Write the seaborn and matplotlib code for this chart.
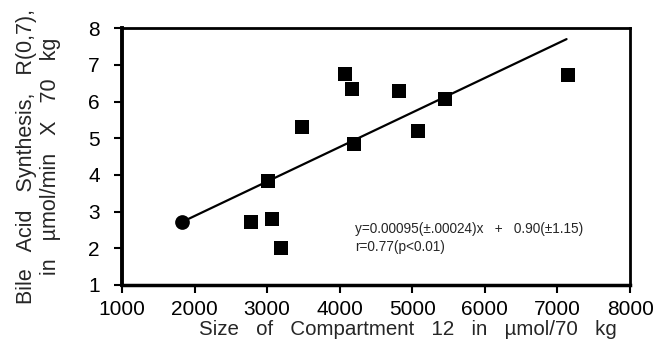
import matplotlib
matplotlib.use("Agg")
import matplotlib.pyplot as plt
import seaborn as sns
import pandas as pd

# data
sq_x = [2780, 3070, 3190, 3015, 3485, 4070, 4175, 4190, 4820, 5080, 5445, 7140]
sq_y = [2.72, 2.80, 2.00, 3.84, 5.30, 6.75, 6.33, 4.83, 6.29, 5.19, 6.07, 6.71]
circ_x = [1830]
circ_y = [2.72]
fit_x = [1830, 7125]
fit_y = [2.72, 7.70]

x_ticks = [1000, 2000, 3000, 4000, 5000, 6000, 7000, 8000]
y_ticks = [1, 2, 3, 4, 5, 6, 7, 8]

sns.set_style("ticks")
plt.rcParams['font.family'] = ['Liberation Sans', 'DejaVu Sans']

fig = plt.figure(figsize=(6.57, 3.47), dpi=100)
ax = fig.add_axes([0.1857, 0.1787, 0.959 - 0.1857, 0.919 - 0.1787])

sq = pd.DataFrame({"x": sq_x, "y": sq_y})
ci = pd.DataFrame({"x": circ_x, "y": circ_y})
fit = pd.DataFrame({"x": fit_x, "y": fit_y})

sns.lineplot(data=fit, x="x", y="y", ax=ax, color="black", linewidth=1.6)
sns.scatterplot(data=sq, x="x", y="y", ax=ax, marker="s", s=92, color="black",
                edgecolor="black", linewidth=0)
sns.scatterplot(data=ci, x="x", y="y", ax=ax, marker="o", s=112, color="black",
                edgecolor="black", linewidth=0)

ax.set_xlim(1000, 8000)
ax.set_ylim(1, 8)
ax.set_xticks(x_ticks)
ax.set_yticks(y_ticks)
ax.tick_params(axis="both", direction="out", length=6, width=1.5, labelsize=15,
               colors="black")
ax.tick_params(axis="x", pad=5)
ax.tick_params(axis="y", pad=10)
for s in ax.spines.values():
    s.set_visible(True)
    s.set_linewidth(2)
    s.set_color("black")
ax.spines["left"].set_linewidth(2.8)
ax.spines["bottom"].set_linewidth(2.5)

ax.set_xlabel("Size   of   Compartment   12   in   µmol/70   kg", fontsize=14.8)
ax.xaxis.label.set_va("center")
ax.xaxis.set_label_coords(0.563, -0.175)
ax.set_ylabel("Bile   Acid   Synthesis,   R(0,7),\nin   µmol/min   X   70   kg",
              fontsize=15.5, linespacing=1.2)
ax.yaxis.label.set_va("center")
ax.yaxis.set_label_coords(-0.164, 0.5)

ax.text(0.458, 0.183, "y=0.00095(±.00024)x   +   0.90(±1.15)\nr=0.77(p<0.01)",
        transform=ax.transAxes, fontsize=9.8, va="center", ha="left", linespacing=1.45)

fig.savefig("out.png", dpi=100)
